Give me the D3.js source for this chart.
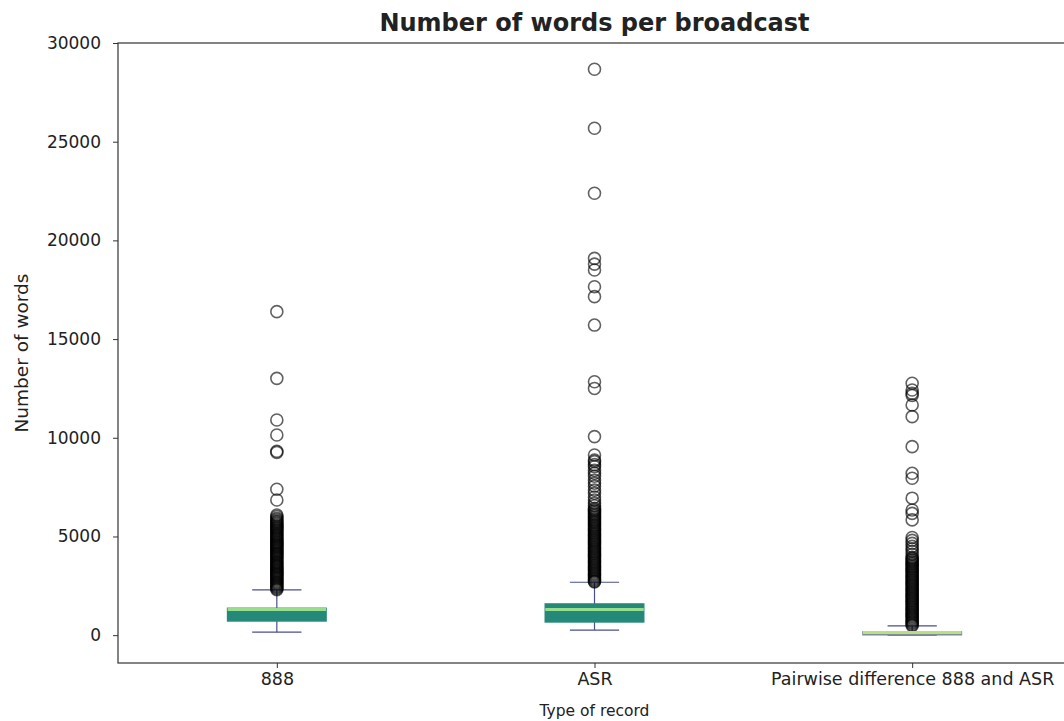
<!DOCTYPE html>
<html>
<head>
<meta charset="utf-8">
<script src="https://cdn.jsdelivr.net/npm/d3@7"></script>
<style>
  body { margin: 0; background: #fff; }
  text { font-family: "DejaVu Sans", sans-serif; fill: #222; }
</style>
</head>
<body>
<div id="wrapper"></div>
<script>
// categories and box statistics
const categories = ["888", "ASR", "Pairwise difference 888 and ASR"]
const whiskerLow = [150, 260, 0]
const q1 = [720, 670, 20]
const median = [1300, 1300, 130]
const q3 = [1360, 1580, 170]
const whiskerHigh = [2290, 2680, 466]
const yTicks = [0, 5000, 10000, 15000, 20000, 25000, 30000]

// outliers per category
const fliers888 = [16390, 13010, 10900, 10140, 9320, 9260, 7390, 6850, 6090, 6010,
  5920, 5860, 5790, 5740, 5680, 5630, 5570, 5520, 5460, 5410, 5350, 5300, 5250, 5190,
  5140, 5080, 5030, 4980, 4920, 4870, 4820, 4760, 4710, 4660, 4600, 4550, 4500, 4450,
  4390, 4340, 4290, 4240, 4180, 4130, 4080, 4030, 3970, 3920, 3870, 3820, 3760, 3710,
  3660, 3610, 3550, 3500, 3450, 3400, 3340, 3290, 3240, 3190, 3130, 3080, 3030, 2980,
  2920, 2870, 2820, 2770, 2710, 2660, 2610, 2560, 2500, 2450, 2400, 2350, 2300]
const fliersASR = [28670, 25680, 22390, 19090, 18800, 18500, 17650, 17150, 15710,
  12840, 12500, 10060, 9130, 8870, 8790, 8640, 8540, 8350, 8200, 8050, 7850, 7700,
  7550, 7350, 7190, 7000, 6850, 6680, 6560, 6430, 6360, 6300, 6240, 6170, 6110, 6050,
  5990, 5920, 5860, 5800, 5740, 5680, 5610, 5550, 5490, 5430, 5370, 5310, 5250, 5190,
  5130, 5070, 5010, 4950, 4890, 4830, 4770, 4710, 4650, 4590, 4530, 4470, 4410, 4350,
  4290, 4230, 4170, 4110, 4050, 3990, 3930, 3870, 3810, 3750, 3690, 3630, 3570, 3510,
  3450, 3390, 3330, 3270, 3210, 3150, 3090, 3030, 2970, 2910, 2850, 2790, 2730, 2700]
const fliersPair = [12760, 12420, 12250, 12150, 11660, 11070, 9550, 8200, 7950, 6940,
  6340, 6170, 5840, 4950, 4800, 4650, 4500, 4380, 4250, 4100, 3950, 3890, 3830, 3770,
  3710, 3650, 3590, 3530, 3470, 3410, 3350, 3290, 3230, 3170, 3110, 3050, 2990, 2930,
  2870, 2810, 2750, 2690, 2630, 2570, 2510, 2450, 2390, 2330, 2270, 2210, 2150, 2090,
  2030, 1970, 1910, 1850, 1790, 1730, 1670, 1610, 1550, 1490, 1430, 1370, 1310, 1250,
  1190, 1130, 1070, 1010, 950, 890, 830, 770, 710, 650, 590, 530, 480]
const fliers = [fliers888, fliersASR, fliersPair]

function drawChart() {

  let dimensions = {
    width: 1064,
    height: 721,
    margin: { top: 43, right: -7, bottom: 58, left: 118 },
  }
  dimensions.boundedWidth = dimensions.width - dimensions.margin.left - dimensions.margin.right
  dimensions.boundedHeight = dimensions.height - dimensions.margin.top - dimensions.margin.bottom

  const wrapper = d3.select("#wrapper")
    .append("svg")
      .attr("width", dimensions.width)
      .attr("height", dimensions.height)
      .style("display", "block")

  const bounds = wrapper.append("g")
      .attr("transform", `translate(${dimensions.margin.left},${dimensions.margin.top})`)

  // scales
  const xScale = d3.scaleLinear()
    .domain([0.5, 3.5])
    .range([0, dimensions.boundedWidth])
  const yScale = d3.scaleLinear()
    .domain([-1410, 30000])
    .range([dimensions.boundedHeight, 0])

  const boxW = 0.31
  const capW = 0.155
  const whiskerColor = "#4a4f8f"

  const rows = categories.map((c, i) => ({
    cat: c, pos: i + 1,
    lo: whiskerLow[i], q1: q1[i], med: median[i], q3: q3[i], hi: whiskerHigh[i],
    fliers: fliers[i],
  }))

  const boxes = bounds.append("g")
    .selectAll("g")
    .data(rows)
    .join("g")

  // whiskers
  boxes.append("line")
      .attr("x1", d => xScale(d.pos)).attr("x2", d => xScale(d.pos))
      .attr("y1", d => yScale(d.q3)).attr("y2", d => yScale(d.hi))
      .attr("stroke", whiskerColor).attr("stroke-width", 1.2)
  boxes.append("line")
      .attr("x1", d => xScale(d.pos)).attr("x2", d => xScale(d.pos))
      .attr("y1", d => yScale(d.q1)).attr("y2", d => yScale(d.lo))
      .attr("stroke", whiskerColor).attr("stroke-width", 1.2)

  // caps
  boxes.selectAll(".cap")
    .data(d => [[d.pos, d.lo], [d.pos, d.hi]])
    .join("line")
      .attr("class", "cap")
      .attr("x1", d => xScale(d[0] - capW / 2)).attr("x2", d => xScale(d[0] + capW / 2))
      .attr("y1", d => yScale(d[1])).attr("y2", d => yScale(d[1]))
      .attr("stroke", whiskerColor).attr("stroke-width", 1.2)

  // outliers
  boxes.selectAll("circle")
    .data(d => d.fliers.map(v => [d.pos, v]))
    .join("circle")
      .attr("cx", d => xScale(d[0]))
      .attr("cy", d => yScale(d[1]))
      .attr("r", 6)
      .attr("fill", "none")
      .attr("stroke", "#000")
      .attr("stroke-opacity", 0.62)
      .attr("stroke-width", 1.6)

  // box body
  boxes.append("rect")
      .attr("x", d => xScale(d.pos - boxW / 2))
      .attr("width", d => xScale(d.pos + boxW / 2) - xScale(d.pos - boxW / 2))
      .attr("y", d => yScale(d.q3))
      .attr("height", d => yScale(d.q1) - yScale(d.q3))
      .attr("fill", "#25897a")
      .attr("stroke", (d, i) => i == 2 ? "#7d8fa0" : "#25897a")
      .attr("stroke-width", 1.5)

  // medians
  boxes.append("line")
      .attr("x1", d => xScale(d.pos - boxW / 2)).attr("x2", d => xScale(d.pos + boxW / 2))
      .attr("y1", d => yScale(d.med)).attr("y2", d => yScale(d.med))
      .attr("stroke", (d, i) => i == 2 ? "#b9e07c" : "#98dc8e")
      .attr("stroke-width", 3)

  // axes
  const yAxis = d3.axisLeft(yScale).tickValues(yTicks).tickFormat(d3.format("d"))
    .tickSize(5).tickPadding(12)
  const yAxisG = bounds.append("g").call(yAxis)
  yAxisG.select(".domain").remove()
  yAxisG.selectAll("text").style("font-size", "17px").attr("fill", "#222")
  yAxisG.selectAll("line").attr("stroke", "#333")

  const xAxis = d3.axisBottom(xScale).tickValues([1, 2, 3])
    .tickFormat((d, i) => categories[i]).tickSize(5).tickPadding(5)
  const xAxisG = bounds.append("g")
    .attr("transform", `translate(0,${dimensions.boundedHeight})`)
    .call(xAxis)
  xAxisG.select(".domain").remove()
  xAxisG.selectAll("text").style("font-size", "17.5px").attr("fill", "#222")
  xAxisG.selectAll("line").attr("stroke", "#333")

  // frame
  bounds.append("rect")
      .attr("width", dimensions.boundedWidth)
      .attr("height", dimensions.boundedHeight)
      .attr("fill", "none")
      .attr("stroke", "#333")
      .attr("stroke-width", 1.2)

  // labels
  wrapper.append("text")
      .attr("x", dimensions.margin.left + dimensions.boundedWidth / 2)
      .attr("y", 31)
      .attr("text-anchor", "middle")
      .style("font-size", "24px")
      .style("font-weight", "bold")
      .text("Number of words per broadcast")

  wrapper.append("text")
      .attr("x", dimensions.margin.left + dimensions.boundedWidth / 2)
      .attr("y", 716)
      .attr("text-anchor", "middle")
      .style("font-size", "15.5px")
      .text("Type of record")

  wrapper.append("text")
      .attr("transform", `translate(28,${dimensions.margin.top + dimensions.boundedHeight / 2}) rotate(-90)`)
      .attr("text-anchor", "middle")
      .style("font-size", "18.5px")
      .text("Number of words")
}

drawChart()
</script>
</body>
</html>
